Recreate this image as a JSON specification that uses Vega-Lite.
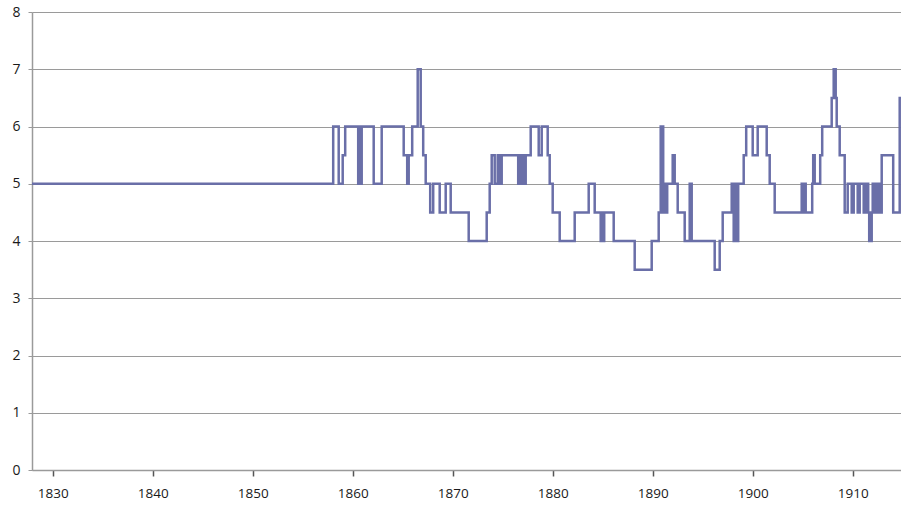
{
  "$schema": "https://vega.github.io/schema/vega-lite/v6.json",
  "width": 869,
  "height": 458,
  "autosize": {"type": "none"},
  "padding": {"left": 32, "top": 12, "right": 0, "bottom": 35},
  "background": "white",
  "config": {"view": {"stroke": null}, "font": "Open Sans"},
  "data": {"values": [
    {"t": 1827.93, "r": 5},
    {"t": 1858.05, "r": 6},
    {"t": 1858.6, "r": 5},
    {"t": 1859.0, "r": 5.5},
    {"t": 1859.25, "r": 6},
    {"t": 1860.55, "r": 5},
    {"t": 1860.7, "r": 6},
    {"t": 1860.75, "r": 5},
    {"t": 1860.9, "r": 6},
    {"t": 1862.1, "r": 5},
    {"t": 1862.9, "r": 6},
    {"t": 1865.1, "r": 5.5},
    {"t": 1865.45, "r": 5},
    {"t": 1865.6, "r": 5.5},
    {"t": 1865.95, "r": 6},
    {"t": 1866.5, "r": 7},
    {"t": 1866.8, "r": 6},
    {"t": 1867.05, "r": 5.5},
    {"t": 1867.3, "r": 5},
    {"t": 1867.75, "r": 4.5},
    {"t": 1868.05, "r": 5},
    {"t": 1868.7, "r": 4.5},
    {"t": 1869.3, "r": 5},
    {"t": 1869.8, "r": 4.5},
    {"t": 1871.6, "r": 4},
    {"t": 1873.4, "r": 4.5},
    {"t": 1873.7, "r": 5},
    {"t": 1873.9, "r": 5.5},
    {"t": 1874.2, "r": 5},
    {"t": 1874.5, "r": 5.5},
    {"t": 1874.75, "r": 5},
    {"t": 1874.9, "r": 5.5},
    {"t": 1876.55, "r": 5},
    {"t": 1876.8, "r": 5.5},
    {"t": 1877.05, "r": 5},
    {"t": 1877.3, "r": 5.5},
    {"t": 1877.8, "r": 6},
    {"t": 1878.6, "r": 5.5},
    {"t": 1878.9, "r": 6},
    {"t": 1879.5, "r": 5.5},
    {"t": 1879.7, "r": 5},
    {"t": 1880.0, "r": 4.5},
    {"t": 1880.7, "r": 4},
    {"t": 1882.2, "r": 4.5},
    {"t": 1883.6, "r": 5},
    {"t": 1884.2, "r": 4.5},
    {"t": 1884.8, "r": 4},
    {"t": 1884.95, "r": 4.5},
    {"t": 1885.0, "r": 4},
    {"t": 1885.15, "r": 4.5},
    {"t": 1886.1, "r": 4},
    {"t": 1888.2, "r": 3.5},
    {"t": 1889.9, "r": 4},
    {"t": 1890.6, "r": 4.5},
    {"t": 1890.8, "r": 6},
    {"t": 1891.05, "r": 4.5},
    {"t": 1891.15, "r": 5},
    {"t": 1891.3, "r": 4.5},
    {"t": 1891.45, "r": 5},
    {"t": 1892.0, "r": 5.5},
    {"t": 1892.2, "r": 5},
    {"t": 1892.5, "r": 4.5},
    {"t": 1893.2, "r": 4},
    {"t": 1893.7, "r": 5},
    {"t": 1893.9, "r": 4},
    {"t": 1896.2, "r": 3.5},
    {"t": 1896.7, "r": 4},
    {"t": 1897.0, "r": 4.5},
    {"t": 1897.9, "r": 5},
    {"t": 1898.1, "r": 4},
    {"t": 1898.3, "r": 5},
    {"t": 1898.45, "r": 4},
    {"t": 1898.55, "r": 5},
    {"t": 1899.1, "r": 5.5},
    {"t": 1899.35, "r": 6},
    {"t": 1900.0, "r": 5.5},
    {"t": 1900.5, "r": 6},
    {"t": 1901.4, "r": 5.5},
    {"t": 1901.7, "r": 5},
    {"t": 1902.2, "r": 4.5},
    {"t": 1904.9, "r": 5},
    {"t": 1905.1, "r": 4.5},
    {"t": 1905.2, "r": 5},
    {"t": 1905.3, "r": 4.5},
    {"t": 1905.95, "r": 5},
    {"t": 1906.05, "r": 5.5},
    {"t": 1906.2, "r": 5},
    {"t": 1906.75, "r": 5.5},
    {"t": 1906.95, "r": 6},
    {"t": 1907.9, "r": 6.5},
    {"t": 1908.1, "r": 7},
    {"t": 1908.3, "r": 6.5},
    {"t": 1908.4, "r": 6},
    {"t": 1908.7, "r": 5.5},
    {"t": 1909.2, "r": 4.5},
    {"t": 1909.5, "r": 5},
    {"t": 1909.9, "r": 4.5},
    {"t": 1910.1, "r": 5},
    {"t": 1910.5, "r": 4.5},
    {"t": 1910.7, "r": 5},
    {"t": 1911.1, "r": 4.5},
    {"t": 1911.3, "r": 5},
    {"t": 1911.55, "r": 4.5},
    {"t": 1911.65, "r": 4},
    {"t": 1911.9, "r": 4.5},
    {"t": 1912.0, "r": 5},
    {"t": 1912.15, "r": 4.5},
    {"t": 1912.3, "r": 5},
    {"t": 1912.5, "r": 4.5},
    {"t": 1912.65, "r": 5},
    {"t": 1912.8, "r": 4.5},
    {"t": 1912.9, "r": 5.5},
    {"t": 1914.05, "r": 4.5},
    {"t": 1914.7, "r": 6.5},
    {"t": 1914.83, "r": 6.5}
  ]},
  "mark": {"type": "line", "interpolate": "step-after", "color": "#6a6fa8", "strokeWidth": 2.5, "clip": true},
  "encoding": {
    "x": {
      "field": "t", "type": "quantitative",
      "scale": {"domain": [1827.93, 1914.83], "nice": false, "zero": false},
      "axis": {
        "title": null, "values": [1830, 1840, 1850, 1860, 1870, 1880, 1890, 1900, 1910],
        "format": "d", "grid": false, "domainColor": "#9a9a9a", "domainWidth": 1.5,
        "tickColor": "#555555", "tickSize": 6, "tickWidth": 1.5,
        "labelFontSize": 13.5, "labelColor": "#1a1a1a", "labelPadding": 10
      }
    },
    "y": {
      "field": "r", "type": "quantitative",
      "scale": {"domain": [0, 8], "nice": false},
      "axis": {
        "title": null, "values": [0, 1, 2, 3, 4, 5, 6, 7, 8],
        "grid": true, "gridColor": "#9a9a9a", "gridWidth": 1.2,
        "domainColor": "#9a9a9a", "domainWidth": 1.5,
        "tickColor": "#9a9a9a", "tickSize": 4,
        "labelFontSize": 14, "labelColor": "#1a1a1a", "labelPadding": 8
      }
    }
  }
}
